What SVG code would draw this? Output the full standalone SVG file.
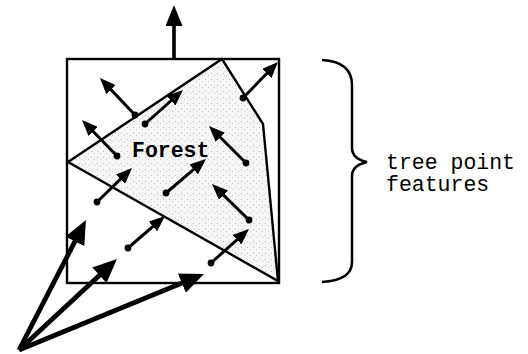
<svg xmlns="http://www.w3.org/2000/svg" width="528" height="354" viewBox="0 0 528 354">
<style>
.frame{fill:none;stroke:#000;stroke-width:2.4}
.edge{fill:none;stroke:#000;stroke-width:2.4}
.sm{stroke:#000;stroke-width:3;fill:none;marker-end:url(#hs)}
.bg{stroke:#000;stroke-width:4.8;fill:none;marker-end:url(#hb)}
.top{stroke:#000;stroke-width:3.6;fill:none;marker-end:url(#ht)}
.dot{fill:#000}
.lbl{font-family:"Liberation Mono","Courier New",monospace;font-size:21.5px;fill:#000}
</style>
<defs>
<pattern id="stip" width="6" height="6" patternUnits="userSpaceOnUse">
<rect width="6" height="6" fill="#f6f6f6"/>
<rect x="1" y="1" width="1" height="1" fill="#bdbdbd"/>
<rect x="4" y="3" width="1" height="1" fill="#cccccc"/>
</pattern>
<marker id="hs" markerUnits="userSpaceOnUse" markerWidth="16" markerHeight="13" viewBox="0 0 16 13" refX="10" refY="6.5" orient="auto">
<path d="M0,0 L16,6.5 L0,13 z" fill="#000"/>
</marker>
<marker id="hb" markerUnits="userSpaceOnUse" markerWidth="24" markerHeight="21" viewBox="0 0 24 21" refX="16" refY="10.5" orient="auto">
<path d="M0,0 L24,10.5 L0,21 z" fill="#000"/>
</marker>
<marker id="ht" markerUnits="userSpaceOnUse" markerWidth="21" markerHeight="17" viewBox="0 0 21 17" refX="13" refY="8.5" orient="auto">
<path d="M0,0 L21,8.5 L0,17 z" fill="#000"/>
</marker>
</defs>
<g id="forest">
<polygon points="68,162 222,59 263,124 278,281" fill="url(#stip)" stroke="none"/>
<path class="edge" d="M68,162 L222,59 L263,124 L278,281 L68,162"/>
<text class="lbl" x="132" y="157" font-weight="bold">Forest</text>
</g>
<g id="cell">
<rect class="frame" x="67" y="59" width="212" height="224"/>
</g>
<g id="brace">
<path d="M322,60 C340,61 352,68 352,85 L352,148 C352,156 358,160 367,162 C358,164 352,168 352,176 L352,262 C352,276 340,281 322,282" fill="none" stroke="#000" stroke-width="2.5"/>
<text class="lbl" x="386" y="169">tree point</text>
<text class="lbl" x="386" y="191">features</text>
</g>
<g id="connectors">
<line class="top" x1="174" y1="59" x2="174" y2="13"/>
<line class="sm" x1="135" y1="115" x2="104.1" y2="82.4"/>
<line class="sm" x1="145" y1="124" x2="178.5" y2="94"/>
<line class="sm" x1="117" y1="156" x2="86.2" y2="124.3"/>
<line class="sm" x1="97" y1="202" x2="127.7" y2="172.2"/>
<line class="sm" x1="166" y1="193" x2="201.4" y2="162.9"/>
<line class="sm" x1="246" y1="163" x2="213.2" y2="130.2"/>
<line class="sm" x1="249" y1="220" x2="216.3" y2="188.2"/>
<line class="sm" x1="128" y1="248" x2="160.5" y2="219.9"/>
<line class="sm" x1="211" y1="263" x2="244.5" y2="233"/>
<line class="sm" x1="243" y1="98" x2="273.8" y2="66.3"/>
<circle class="dot" cx="135" cy="115" r="3.4"/>
<circle class="dot" cx="145" cy="124" r="3.4"/>
<circle class="dot" cx="117" cy="156" r="3.4"/>
<circle class="dot" cx="97" cy="202" r="3.4"/>
<circle class="dot" cx="166" cy="193" r="3.4"/>
<circle class="dot" cx="246" cy="163" r="3.4"/>
<circle class="dot" cx="249" cy="220" r="3.4"/>
<circle class="dot" cx="128" cy="248" r="3.4"/>
<circle class="dot" cx="211" cy="263" r="3.4"/>
<circle class="dot" cx="243" cy="98" r="3.4"/>
<line class="bg" x1="19" y1="350" x2="82.3" y2="227.1"/>
<line class="bg" x1="19" y1="350" x2="111.1" y2="264.4"/>
<line class="bg" x1="19" y1="350" x2="196.6" y2="277"/>
</g>
</svg>
